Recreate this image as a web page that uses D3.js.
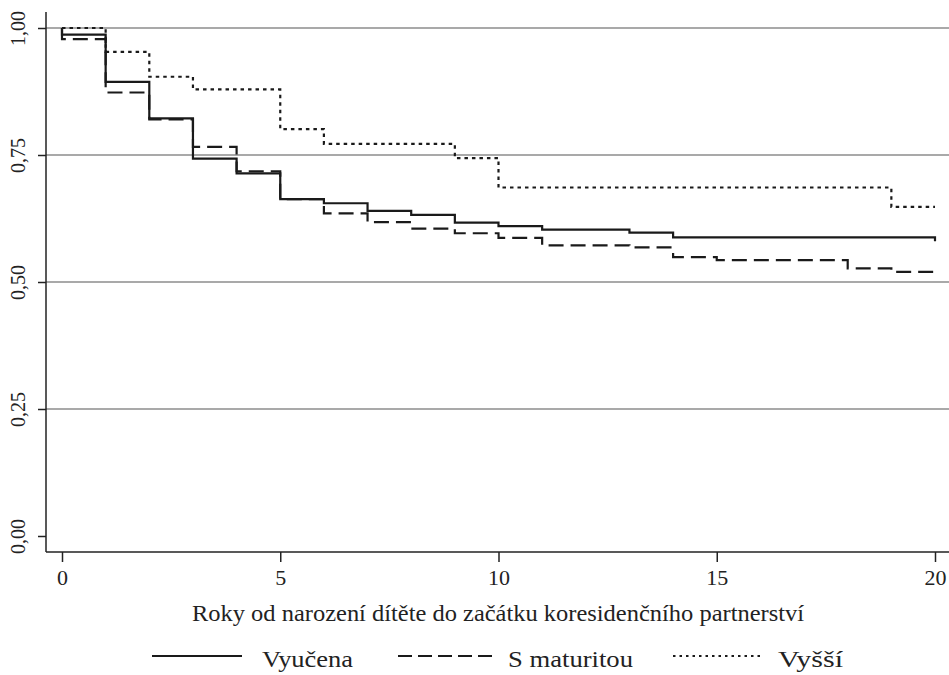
<!DOCTYPE html>
<html>
<head>
<meta charset="utf-8">
<script src="https://cdn.jsdelivr.net/npm/d3@7"></script>
<style>
body { margin: 0; background: #fff; }
text { font-family: "Liberation Serif", "DejaVu Serif", serif; fill: #222; }
</style>
</head>
<body>
<svg id="chart" width="949" height="675"></svg>
<script>
// DATA
var yTicks = [0, 0.25, 0.5, 0.75, 1];
var yTickLabels = ["0,00", "0,25", "0,50", "0,75", "1,00"];
var xTicks = [0, 5, 10, 15, 20];

var vyucenaT = [0, 0, 1, 2, 3, 4, 5, 6, 7, 8, 9, 10, 11, 13, 14, 20, 20];
var vyucenaS = [1, 0.987, 0.894, 0.822, 0.743, 0.714, 0.663, 0.655, 0.640, 0.632, 0.617, 0.610, 0.603, 0.597, 0.588, 0.588, 0.580];

var maturitaT = [0, 0, 1, 2, 3, 4, 5, 6, 7, 8, 9, 10, 11, 13, 14, 15, 18, 19, 20];
var maturitaS = [1, 0.978, 0.873, 0.820, 0.766, 0.718, 0.663, 0.635, 0.618, 0.605, 0.596, 0.587, 0.572, 0.568, 0.549, 0.543, 0.527, 0.520, 0.520];

var vyssiT = [0, 1, 2, 3, 5, 6, 9, 10, 19, 20];
var vyssiS = [1, 0.953, 0.904, 0.879, 0.801, 0.772, 0.744, 0.686, 0.648, 0.648];

var seriesNames = ["Vyučena", "S maturitou", "Vyšší"];
var dashes = [null, "15,7", "3.5,4"];

var w = 949, h = 675;
var left = 46, axisY = 552;

var svg = d3.select("#chart");

var x = d3.scaleLinear().domain([0, 20]).range([62, 935]);
var y = d3.scaleLinear().domain([0, 1]).range([536, 28]);

// grid lines
svg.append("g").selectAll("line")
  .data(yTicks.filter(function(d){ return d > 0; }))
  .enter().append("line")
  .attr("x1", left).attr("x2", w)
  .attr("y1", function(d){ return y(d); })
  .attr("y2", function(d){ return y(d); })
  .attr("stroke", "#8c8c8c").attr("stroke-width", 1.4);

// y axis
var yAxis = svg.append("g").attr("transform", "translate(" + left + ",0)")
  .call(d3.axisLeft(y).tickValues(yTicks).tickSize(8).tickFormat(function(d, i){ return yTickLabels[i]; }));
yAxis.attr("font-family", null).attr("font-size", null);
yAxis.select(".domain").attr("d", "M0,12V" + axisY).attr("stroke", "#222").attr("stroke-width", 1.5);
yAxis.selectAll(".tick line").attr("stroke", "#222").attr("stroke-width", 1.5);
yAxis.selectAll(".tick text")
  .attr("transform", "rotate(-90)")
  .attr("x", 0).attr("y", -21)
  .attr("dy", "0")
  .attr("text-anchor", "middle")
  .attr("fill", "#222")
  .style("font-size", "21px")
  .attr("textLength", 35)
  .attr("lengthAdjust", "spacingAndGlyphs");

// x axis
var xAxis = svg.append("g").attr("transform", "translate(0," + axisY + ")")
  .call(d3.axisBottom(x).tickValues(xTicks).tickSize(10).tickFormat(d3.format("d")));
xAxis.attr("font-family", null).attr("font-size", null);
xAxis.select(".domain").attr("d", "M" + left + ",0H" + w).attr("stroke", "#222").attr("stroke-width", 1.5);
xAxis.selectAll(".tick line").attr("stroke", "#222").attr("stroke-width", 1.5);
xAxis.selectAll(".tick text")
  .attr("y", 33).attr("dy", "0")
  .attr("fill", "#222")
  .style("font-size", "22px");

svg.append("text")
  .attr("x", 498).attr("y", 621)
  .attr("text-anchor", "middle")
  .attr("textLength", 612)
  .attr("lengthAdjust", "spacingAndGlyphs")
  .style("font-size", "24px")
  .text("Roky od narození dítěte do začátku koresidenčního partnerství");

// curves
var line = d3.line()
  .x(function(d){ return x(d[0]); })
  .y(function(d){ return y(d[1]); })
  .curve(d3.curveStepAfter);

var series = [
  d3.zip(vyucenaT, vyucenaS),
  d3.zip(maturitaT, maturitaS),
  d3.zip(vyssiT, vyssiS)
];

svg.append("g").selectAll("path")
  .data(series)
  .enter().append("path")
  .attr("d", line)
  .attr("fill", "none")
  .attr("stroke", "#1a1a1a")
  .attr("stroke-width", 2.2)
  .attr("stroke-dasharray", function(d, i){ return dashes[i]; });

// legend
var legLineX = [152, 398, 673];
var legLineW = [90, 95, 89];
var legTextX = [262, 508, 778];
var legTextW = [91, 125, 65];
var legY = 656;
var leg = svg.append("g").selectAll("g")
  .data(seriesNames)
  .enter().append("g");
leg.append("line")
  .attr("x1", function(d, i){ return legLineX[i]; })
  .attr("x2", function(d, i){ return legLineX[i] + legLineW[i]; })
  .attr("y1", legY).attr("y2", legY)
  .attr("stroke", "#1a1a1a").attr("stroke-width", 2)
  .attr("stroke-dasharray", function(d, i){ return ["", "14,6", "2.5,4"][i] || null; });
leg.append("text")
  .attr("x", function(d, i){ return legTextX[i]; })
  .attr("y", legY + 11)
  .attr("textLength", function(d, i){ return legTextW[i]; })
  .attr("lengthAdjust", "spacingAndGlyphs")
  .style("font-size", "24px")
  .text(function(d){ return d; });
</script>
</body>
</html>
